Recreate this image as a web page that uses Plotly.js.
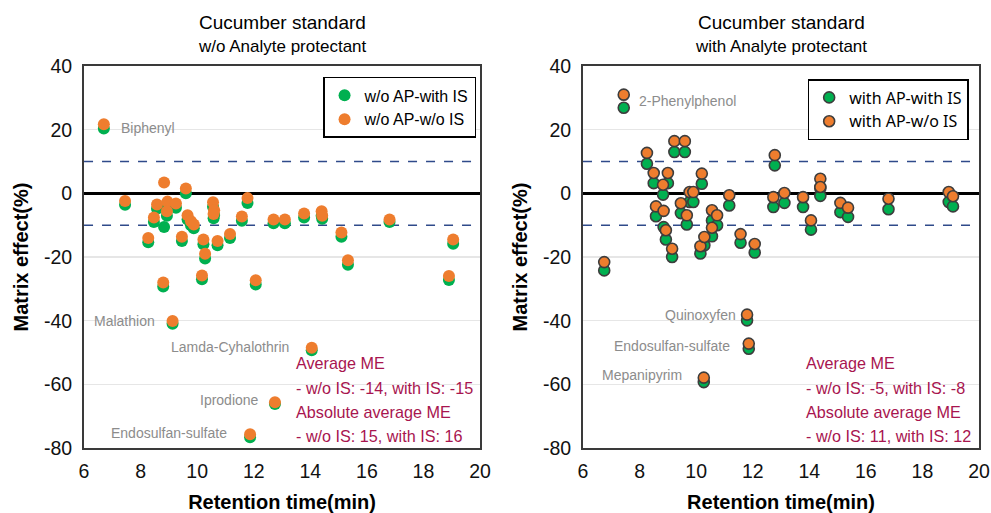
<!DOCTYPE html>
<html>
<head>
<meta charset="utf-8">
<script src="https://cdn.plot.ly/plotly-3.0.1.min.js"></script>
<style>html,body{margin:0;padding:0;background:#fff;}#chart{width:991px;height:513px;}</style>
</head>
<body>
<div id="chart"></div>
<script>
// ---- Left panel: w/o Analyte protectant ----
const leftRT = [6.7, 7.45, 8.27, 8.47, 8.58, 8.83, 8.8, 8.95, 8.93, 9.25, 9.13, 9.46, 9.6, 9.66, 9.78, 9.88, 10.17, 10.22, 10.28, 10.56, 10.6, 10.58, 10.72, 11.16, 11.58, 11.78, 12.07, 11.87, 12.75, 12.7, 13.1, 13.78, 14.4, 14.42, 14.05, 15.1, 15.33, 16.8, 19.05, 18.9];
const leftWoIS = [21.7, -2.4, -14.0, -7.6, -3.5, 3.4, -28.0, -2.6, -5.6, -3.2, -40.1, -13.6, 1.5, -6.9, -8.8, -9.8, -25.8, -14.5, -19.0, -2.8, -5.3, -6.5, -15.0, -12.8, -7.3, -1.5, -27.3, -75.7, -65.6, -8.2, -8.2, -6.3, -5.6, -7.0, -48.5, -12.3, -21.0, -8.2, -14.5, -26.0];
const leftWithIS = [20.4, -3.6, -15.4, -9.0, -4.8, -10.6, -29.3, -3.8, -7.0, -4.5, -41.0, -15.0, 0.0, -8.2, -10.0, -11.0, -27.0, -16.0, -20.5, -4.2, -6.8, -7.8, -16.3, -14.0, -8.6, -3.0, -28.6, -76.6, -66.2, -9.4, -9.4, -7.6, -7.0, -8.0, -49.3, -13.6, -22.4, -9.0, -15.8, -27.2];
const leftLabels = ["Biphenyl", "Malathion", "Lamda-Cyhalothrin", "Iprodione", "Endosulfan-sulfate"];
const leftNotes = ["Average ME", "- w/o IS: -14, with IS: -15", "Absolute average ME", "- w/o IS: 15, with IS: 16"];

// ---- Right panel: with Analyte protectant ----
const rightRT = [6.75, 7.44, 8.26, 8.5, 8.58, 8.83, 8.85, 8.93, 9.0, 9.15, 9.23, 9.46, 9.6, 9.67, 9.77, 9.9, 10.15, 10.2, 10.27, 10.29, 10.56, 10.56, 10.74, 11.17, 11.57, 11.8, 11.86, 12.07, 12.73, 12.78, 13.12, 13.78, 14.06, 14.39, 14.39, 15.1, 15.37, 16.8, 18.93, 19.08];
const rightWoIS = [-21.6, 31.0, 12.7, 6.4, -4.1, 2.7, -5.5, -11.6, 6.4, -17.4, 16.4, -3.1, 16.4, -6.9, 0.4, 0.4, -16.6, 6.2, -57.9, -13.7, -5.3, -10.8, -6.9, -0.6, -12.8, -38.1, -47.2, -15.9, -1.2, 12.0, 0.1, -1.2, -8.5, 4.6, 2.0, -3.0, -4.5, -1.7, 0.4, -0.9];
const rightWithIS = [-24.2, 26.9, 9.3, 3.2, -7.2, -0.4, -10.6, -14.5, 3.2, -20.0, 13.0, -6.2, 13.0, -9.8, -2.7, -2.7, -18.9, 3.0, -59.3, -16.3, -8.5, -13.5, -10.0, -3.8, -15.5, -39.9, -48.8, -18.6, -4.3, 8.8, -3.0, -4.3, -11.4, 1.6, -0.8, -5.9, -7.4, -5.0, -2.7, -4.1];
const rightLabels = ["2-Phenylphenol", "Quinoxyfen", "Endosulfan-sulfate", "Mepanipyrim"];
const rightNotes = ["Average ME", "- w/o IS: -5, with IS: -8", "Absolute average ME", "- w/o IS: 11, with IS: 12"];

const xTicks = [6, 8, 10, 12, 14, 16, 18, 20];
const yTicks = [-80, -60, -40, -20, 0, 20, 40];
const limits = [-10, 10];

const GREEN = "#00B050", ORANGE = "#EE7D2E", RED = "#A8154F", GREYTXT = "#8c8c8c";
const tickFont = {family: "Liberation Sans, Arial", size: 19.5, color: "#111"};
const titleFont = {family: "Liberation Sans, Arial", size: 20, color: "#000", weight: "bold"};

const traces = [
  {x: leftRT, y: leftWithIS, type: "scatter", mode: "markers", name: "w/o AP-with IS", xaxis: "x", yaxis: "y", legend: "legend",
   marker: {color: GREEN, size: 12, line: {width: 0}}},
  {x: leftRT, y: leftWoIS, type: "scatter", mode: "markers", name: "w/o AP-w/o IS", xaxis: "x", yaxis: "y", legend: "legend",
   marker: {color: ORANGE, size: 12, line: {width: 0}}},
  {x: rightRT, y: rightWithIS, type: "scatter", mode: "markers", name: "with AP-with IS", xaxis: "x2", yaxis: "y2", legend: "legend2",
   marker: {color: GREEN, size: 11, line: {width: 1.6, color: "#3d3d3d"}}},
  {x: rightRT, y: rightWoIS, type: "scatter", mode: "markers", name: "with AP-w/o IS", xaxis: "x2", yaxis: "y2", legend: "legend2",
   marker: {color: ORANGE, size: 11, line: {width: 1.6, color: "#3d3d3d"}}}
];

function xaxisDef(domain, anchor) {
  return {domain: domain, anchor: anchor, range: [6, 20], tickvals: xTicks, ticktext: xTicks.map(String),
    showgrid: false, zeroline: false, showline: true, mirror: true, linecolor: "#3a3a3a", linewidth: 2,
    ticks: "", tickfont: tickFont, ticklabelstandoff: 5, ticklabeloverflow: "allow", automargin: false,
    title: {text: "Retention time(min)", font: titleFont, standoff: 14}};
}
function yaxisDef(anchor) {
  return {domain: [0.1267, 0.8713], anchor: anchor, range: [-80, 40], tickvals: yTicks, ticktext: yTicks.map(String),
    showgrid: true, gridcolor: "#e6e6e6", gridwidth: 1.5, zeroline: true, zerolinecolor: "#000", zerolinewidth: 2.5,
    showline: true, mirror: true, linecolor: "#3a3a3a", linewidth: 2,
    ticks: "", tickfont: tickFont, ticklabelstandoff: 6, ticklabeloverflow: "allow", automargin: false,
    title: {text: "Matrix effect(%)", font: titleFont, standoff: 10}};
}

const shapes = [];
[["x", "y"], ["x2", "y2"]].forEach(([xa, ya]) => {
  limits.forEach(v => shapes.push({type: "line", xref: xa + " domain", yref: ya, x0: 0, x1: 1, y0: v, y1: v,
    line: {color: "#2F4A8A", width: 1.6, dash: "dash"}, layer: "below"}));
});

const annotations = [];
const labelFont = {family: "Liberation Sans, Arial", size: 14, color: GREYTXT};
const leftLabelPos = [[7.24, 20.4, "left"], [8.58, -40.2, "right"], [13.32, -48.4, "right"], [12.26, -65.0, "right"], [11.13, -75.4, "right"]];
leftLabels.forEach((t, i) => annotations.push({text: t, xref: "x", yref: "y", x: leftLabelPos[i][0], y: leftLabelPos[i][1],
  xanchor: leftLabelPos[i][2], yanchor: "middle", showarrow: false, font: labelFont}));
const rightLabelPos = [[7.91, 28.9, "left"], [11.48, -38.3, "right"], [11.27, -48.0, "right"], [9.57, -57.2, "right"]];
rightLabels.forEach((t, i) => annotations.push({text: t, xref: "x2", yref: "y2", x: rightLabelPos[i][0], y: rightLabelPos[i][1],
  xanchor: rightLabelPos[i][2], yanchor: "middle", showarrow: false, font: labelFont}));
const noteY = [-53.4, -61.0, -68.8, -76.3];
const noteFont = {family: "Liberation Sans, Arial", size: 16.2, color: RED};
leftNotes.forEach((t, i) => annotations.push({text: t, xref: "x", yref: "y", x: 13.42, y: noteY[i], xanchor: "left", yanchor: "middle",
  showarrow: false, font: noteFont}));
rightNotes.forEach((t, i) => annotations.push({text: t, xref: "x2", yref: "y2", x: 13.8, y: noteY[i], xanchor: "left", yanchor: "middle",
  showarrow: false, font: noteFont}));
const panelTitles = [["Cucumber standard", "w/o Analyte protectant", 0.2846], ["Cucumber standard", "with Analyte protectant", 0.7881]];
panelTitles.forEach(([a, b, x]) => {
  annotations.push({text: a, xref: "paper", yref: "paper", x: x, y: 1 - 22 / 513, xanchor: "center", yanchor: "middle",
    showarrow: false, font: {family: "Liberation Sans, Arial", size: 19, color: "#000"}});
  annotations.push({text: b, xref: "paper", yref: "paper", x: x, y: 1 - 47 / 513, xanchor: "center", yanchor: "middle",
    showarrow: false, font: {family: "Liberation Sans, Arial", size: 17, color: "#000"}});
});

const layout = {
  width: 991, height: 513,
  margin: {l: 0, r: 0, t: 0, b: 0},
  paper_bgcolor: "#fff", plot_bgcolor: "#fff",
  xaxis: xaxisDef([0.0848, 0.4844], "y"),
  yaxis: yaxisDef("x"),
  xaxis2: xaxisDef([0.5883, 0.9879], "y2"),
  yaxis2: yaxisDef("x2"),
  legend: {x: 0.326, y: 0.85, xanchor: "left", yanchor: "top", bgcolor: "#fff", bordercolor: "#000", borderwidth: 1.5,
    font: {family: "Liberation Sans, Arial", size: 16, color: "#000"}, itemwidth: 30, tracegroupgap: 0},
  legend2: {x: 0.815, y: 0.846, xanchor: "left", yanchor: "top", bgcolor: "#fff", bordercolor: "#000", borderwidth: 1.5,
    font: {family: "Noto Sans, Open Sans, Arial", size: 16, color: "#000"}, itemwidth: 30, tracegroupgap: 0},
  shapes: shapes,
  annotations: annotations,
  showlegend: true
};

Plotly.newPlot("chart", traces, layout, {displayModeBar: false, staticPlot: true});
</script>
</body>
</html>
